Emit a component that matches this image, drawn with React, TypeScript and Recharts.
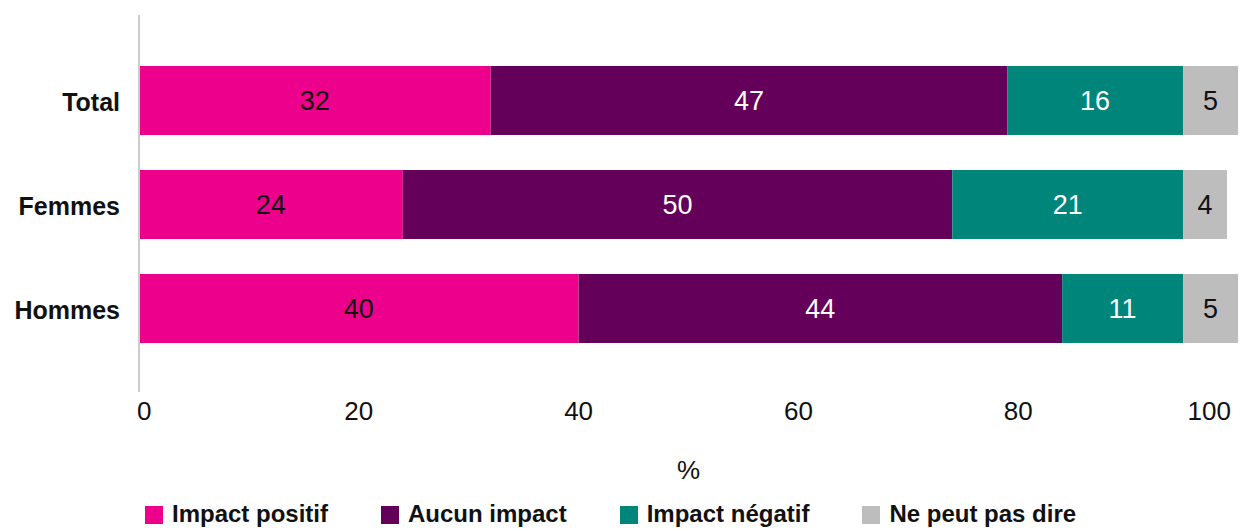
import { BarChart, Bar, XAxis, YAxis, LabelList, Legend } from 'recharts';

const groups = ['Total', 'Femmes', 'Hommes'];
const impactPositif = [32, 24, 40];
const aucunImpact = [47, 50, 44];
const impactNegatif = [16, 21, 11];
const nePeutPasDire = [5, 4, 5];
const xTicks = [0, 20, 40, 60, 80, 100];

const SERIES = [
  { key: 'positif', name: 'Impact positif', color: '#EC008C', text: '#111', values: impactPositif },
  { key: 'aucun', name: 'Aucun impact', color: '#65005A', text: '#fff', values: aucunImpact },
  { key: 'negatif', name: 'Impact négatif', color: '#00857A', text: '#fff', values: impactNegatif },
  { key: 'nsp', name: 'Ne peut pas dire', color: '#BDBDBD', text: '#111', values: nePeutPasDire },
];

const data = groups.map((g, i) => {
  const row: Record<string, string | number> = { group: g };
  SERIES.forEach((s) => { row[s.key] = s.values[i]; });
  return row;
});

const FONT = "'Liberation Sans', Arial, sans-serif";

// premier et dernier libellé recalés dans le cadre
function XTick({ x, y, payload, index }: any) {
  const last = index === xTicks.length - 1;
  const anchor = index === 0 ? 'start' : last ? 'end' : 'middle';
  const dx = index === 0 ? -2 : last ? 2 : 0;
  return (
    <text x={x + dx} y={y} dy={20} textAnchor={anchor} fontFamily={FONT} fontSize={26} fill="#111">
      {payload.value}
    </text>
  );
}

function LegendBox() {
  return (
    <div style={{ display: 'flex', height: 40, paddingLeft: 145, paddingTop: 15, boxSizing: 'border-box' }}>
      {SERIES.map((s, i) => (
        <div key={s.key} style={{ display: 'flex', alignItems: 'flex-start', marginLeft: i === 0 ? 0 : 53 }}>
          <span style={{ width: 18, height: 18, background: s.color, display: 'inline-block', marginRight: 9 }} />
          <span style={{ fontFamily: FONT, fontWeight: 700, fontSize: 24, color: '#111', lineHeight: '22px', marginTop: -3 }}>{s.name}</span>
        </div>
      ))}
    </div>
  );
}

export default function App() {
  return (
    <div style={{ position: 'absolute', left: 0, top: 0, background: '#fff' }}>
      <BarChart
        width={1241}
        height={531}
        data={data}
        layout="vertical"
        margin={{ top: 15, right: 3, bottom: 0, left: 0 }}
        barSize={69}
      >
        <XAxis
          type="number"
          domain={[0, 100]}
          ticks={xTicks}
          axisLine={false}
          tickLine={false}
          tick={<XTick />}
          height={99}
          label={{ value: '%', position: 'insideBottom', offset: 12, fontFamily: FONT, fontSize: 26, fill: '#111' }}
        />
        <YAxis
          type="category"
          dataKey="group"
          width={139}
          axisLine={{ stroke: '#cccccc', strokeWidth: 2 }}
          tickLine={false}
          tickMargin={13}
          padding={{ top: 33, bottom: 32 }}
          tick={{ fontFamily: FONT, fontSize: 25, fontWeight: 700, fill: '#111', dy: 2 }}
        />
        <Legend verticalAlign="bottom" content={<LegendBox />} />
        {SERIES.map((s) => (
          <Bar key={s.key} dataKey={s.key} name={s.name} stackId="a" fill={s.color} isAnimationActive={false}>
            <LabelList
              dataKey={s.key}
              position="center"
              fill={s.text}
              style={{ fontFamily: FONT, fontSize: 27 }}
            />
          </Bar>
        ))}
      </BarChart>
    </div>
  );
}
